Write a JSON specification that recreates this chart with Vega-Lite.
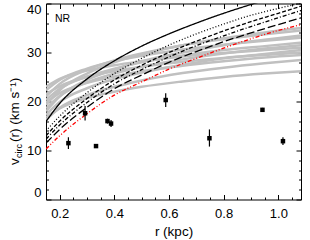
{
  "$schema": "https://vega.github.io/schema/vega-lite/v6.json",
  "autosize": "none",
  "width": 255,
  "height": 196,
  "padding": {"left": 46, "top": 3.5, "right": 9, "bottom": 40.5},
  "background": "white",
  "title": {"text": "NR", "anchor": "start", "frame": "group", "offset": -29, "dx": 9, "baseline": "alphabetic", "fontSize": 10.5, "font": "Liberation Sans", "fontWeight": "normal", "color": "black"},
  "config": {
    "view": {"stroke": null},
    "axis": {"grid": false, "domainColor": "black", "tickColor": "black", "labelColor": "black", "titleColor": "black", "labelFont": "Liberation Sans", "titleFont": "Liberation Sans", "labelFontSize": 13, "titleFontSize": 13.5, "titleFontWeight": "normal", "domainWidth": 1, "tickWidth": 1, "labelOverlap": false}
  },
  "datasets": {
    "gray": [
      {"curve": "g1", "r": 0.15, "v": 23.0}, {"curve": "g1", "r": 0.2, "v": 24.6}, {"curve": "g1", "r": 0.3, "v": 26.3}, {"curve": "g1", "r": 0.4, "v": 27.4}, {"curve": "g1", "r": 0.5, "v": 28.2}, {"curve": "g1", "r": 0.65, "v": 29.2}, {"curve": "g1", "r": 0.8, "v": 29.9}, {"curve": "g1", "r": 0.95, "v": 30.5}, {"curve": "g1", "r": 1.085, "v": 31.0},
      {"curve": "g2", "r": 0.15, "v": 22.3}, {"curve": "g2", "r": 0.2, "v": 24.4}, {"curve": "g2", "r": 0.3, "v": 26.7}, {"curve": "g2", "r": 0.4, "v": 28.2}, {"curve": "g2", "r": 0.5, "v": 29.3}, {"curve": "g2", "r": 0.65, "v": 30.6}, {"curve": "g2", "r": 0.8, "v": 31.6}, {"curve": "g2", "r": 0.95, "v": 32.4}, {"curve": "g2", "r": 1.085, "v": 33.0},
      {"curve": "g3", "r": 0.15, "v": 21.5}, {"curve": "g3", "r": 0.2, "v": 23.1}, {"curve": "g3", "r": 0.3, "v": 25.0}, {"curve": "g3", "r": 0.4, "v": 26.2}, {"curve": "g3", "r": 0.5, "v": 27.1}, {"curve": "g3", "r": 0.65, "v": 28.1}, {"curve": "g3", "r": 0.8, "v": 28.9}, {"curve": "g3", "r": 0.95, "v": 29.5}, {"curve": "g3", "r": 1.085, "v": 30.0},
      {"curve": "g4", "r": 0.15, "v": 21.0}, {"curve": "g4", "r": 0.2, "v": 23.6}, {"curve": "g4", "r": 0.3, "v": 26.5}, {"curve": "g4", "r": 0.4, "v": 28.4}, {"curve": "g4", "r": 0.5, "v": 29.8}, {"curve": "g4", "r": 0.65, "v": 31.5}, {"curve": "g4", "r": 0.8, "v": 32.7}, {"curve": "g4", "r": 0.95, "v": 33.7}, {"curve": "g4", "r": 1.085, "v": 34.5},
      {"curve": "g5", "r": 0.15, "v": 20.3}, {"curve": "g5", "r": 0.2, "v": 22.6}, {"curve": "g5", "r": 0.3, "v": 25.1}, {"curve": "g5", "r": 0.4, "v": 26.7}, {"curve": "g5", "r": 0.5, "v": 28.0}, {"curve": "g5", "r": 0.65, "v": 29.4}, {"curve": "g5", "r": 0.8, "v": 30.5}, {"curve": "g5", "r": 0.95, "v": 31.3}, {"curve": "g5", "r": 1.085, "v": 32.0},
      {"curve": "g6", "r": 0.15, "v": 19.8}, {"curve": "g6", "r": 0.2, "v": 21.7}, {"curve": "g6", "r": 0.3, "v": 23.8}, {"curve": "g6", "r": 0.4, "v": 25.1}, {"curve": "g6", "r": 0.5, "v": 26.2}, {"curve": "g6", "r": 0.65, "v": 27.3}, {"curve": "g6", "r": 0.8, "v": 28.2}, {"curve": "g6", "r": 0.95, "v": 29.0}, {"curve": "g6", "r": 1.085, "v": 29.5},
      {"curve": "g7", "r": 0.15, "v": 19.3}, {"curve": "g7", "r": 0.2, "v": 22.3}, {"curve": "g7", "r": 0.3, "v": 25.7}, {"curve": "g7", "r": 0.4, "v": 28.0}, {"curve": "g7", "r": 0.5, "v": 29.6}, {"curve": "g7", "r": 0.65, "v": 31.5}, {"curve": "g7", "r": 0.8, "v": 32.9}, {"curve": "g7", "r": 0.95, "v": 34.1}, {"curve": "g7", "r": 1.085, "v": 35.0},
      {"curve": "g8", "r": 0.15, "v": 18.6}, {"curve": "g8", "r": 0.2, "v": 21.1}, {"curve": "g8", "r": 0.3, "v": 23.9}, {"curve": "g8", "r": 0.4, "v": 25.7}, {"curve": "g8", "r": 0.5, "v": 27.1}, {"curve": "g8", "r": 0.65, "v": 28.6}, {"curve": "g8", "r": 0.8, "v": 29.8}, {"curve": "g8", "r": 0.95, "v": 30.8}, {"curve": "g8", "r": 1.085, "v": 31.5},
      {"curve": "g9", "r": 0.15, "v": 18.0}, {"curve": "g9", "r": 0.2, "v": 21.0}, {"curve": "g9", "r": 0.3, "v": 24.4}, {"curve": "g9", "r": 0.4, "v": 26.5}, {"curve": "g9", "r": 0.5, "v": 28.2}, {"curve": "g9", "r": 0.65, "v": 30.0}, {"curve": "g9", "r": 0.8, "v": 31.5}, {"curve": "g9", "r": 0.95, "v": 32.6}, {"curve": "g9", "r": 1.085, "v": 33.5},
      {"curve": "g10", "r": 0.15, "v": 17.3}, {"curve": "g10", "r": 0.2, "v": 19.9}, {"curve": "g10", "r": 0.3, "v": 22.7}, {"curve": "g10", "r": 0.4, "v": 24.6}, {"curve": "g10", "r": 0.5, "v": 25.9}, {"curve": "g10", "r": 0.65, "v": 27.5}, {"curve": "g10", "r": 0.8, "v": 28.8}, {"curve": "g10", "r": 0.95, "v": 29.7}, {"curve": "g10", "r": 1.085, "v": 30.5},
      {"curve": "g11", "r": 0.15, "v": 16.3}, {"curve": "g11", "r": 0.2, "v": 18.7}, {"curve": "g11", "r": 0.3, "v": 21.3}, {"curve": "g11", "r": 0.4, "v": 23.0}, {"curve": "g11", "r": 0.5, "v": 24.3}, {"curve": "g11", "r": 0.65, "v": 25.8}, {"curve": "g11", "r": 0.8, "v": 26.9}, {"curve": "g11", "r": 0.95, "v": 27.8}, {"curve": "g11", "r": 1.085, "v": 28.5},
      {"curve": "g12", "r": 0.15, "v": 16.8}, {"curve": "g12", "r": 0.2, "v": 18.6}, {"curve": "g12", "r": 0.3, "v": 20.7}, {"curve": "g12", "r": 0.4, "v": 22.0}, {"curve": "g12", "r": 0.5, "v": 23.0}, {"curve": "g12", "r": 0.65, "v": 24.1}, {"curve": "g12", "r": 0.8, "v": 25.0}, {"curve": "g12", "r": 0.95, "v": 25.7}, {"curve": "g12", "r": 1.085, "v": 26.2}
    ],
    "models": [
      {"model": "solid", "r": 0.15, "v": 15.9}, {"model": "solid", "r": 0.2, "v": 19.6}, {"model": "solid", "r": 0.3, "v": 24.6}, {"model": "solid", "r": 0.4, "v": 28.3}, {"model": "solid", "r": 0.5, "v": 31.3}, {"model": "solid", "r": 0.6, "v": 33.8}, {"model": "solid", "r": 0.7, "v": 36.0}, {"model": "solid", "r": 0.8, "v": 38.0}, {"model": "solid", "r": 0.9, "v": 39.8}, {"model": "solid", "r": 1.0, "v": 41.5},
      {"model": "dotted", "r": 0.15, "v": 14.0}, {"model": "dotted", "r": 0.2, "v": 17.0}, {"model": "dotted", "r": 0.3, "v": 21.8}, {"model": "dotted", "r": 0.4, "v": 25.7}, {"model": "dotted", "r": 0.5, "v": 28.8}, {"model": "dotted", "r": 0.6, "v": 31.5}, {"model": "dotted", "r": 0.7, "v": 33.8}, {"model": "dotted", "r": 0.8, "v": 35.8}, {"model": "dotted", "r": 0.9, "v": 37.6}, {"model": "dotted", "r": 1.0, "v": 39.0}, {"model": "dotted", "r": 1.085, "v": 40.1},
      {"model": "dashed", "r": 0.15, "v": 13.0}, {"model": "dashed", "r": 0.2, "v": 16.0}, {"model": "dashed", "r": 0.3, "v": 20.6}, {"model": "dashed", "r": 0.4, "v": 24.4}, {"model": "dashed", "r": 0.5, "v": 27.4}, {"model": "dashed", "r": 0.6, "v": 30.0}, {"model": "dashed", "r": 0.7, "v": 32.3}, {"model": "dashed", "r": 0.8, "v": 34.4}, {"model": "dashed", "r": 0.9, "v": 36.3}, {"model": "dashed", "r": 1.0, "v": 38.0}, {"model": "dashed", "r": 1.085, "v": 39.5},
      {"model": "dashdot", "r": 0.15, "v": 12.3}, {"model": "dashdot", "r": 0.2, "v": 15.2}, {"model": "dashdot", "r": 0.3, "v": 19.8}, {"model": "dashdot", "r": 0.4, "v": 23.6}, {"model": "dashdot", "r": 0.5, "v": 26.5}, {"model": "dashdot", "r": 0.6, "v": 29.1}, {"model": "dashdot", "r": 0.7, "v": 31.4}, {"model": "dashdot", "r": 0.8, "v": 33.4}, {"model": "dashdot", "r": 0.9, "v": 35.3}, {"model": "dashdot", "r": 1.0, "v": 37.1}, {"model": "dashdot", "r": 1.085, "v": 38.6},
      {"model": "longdash", "r": 0.15, "v": 11.5}, {"model": "longdash", "r": 0.2, "v": 14.3}, {"model": "longdash", "r": 0.3, "v": 18.8}, {"model": "longdash", "r": 0.4, "v": 22.6}, {"model": "longdash", "r": 0.5, "v": 25.4}, {"model": "longdash", "r": 0.6, "v": 28.0}, {"model": "longdash", "r": 0.7, "v": 30.2}, {"model": "longdash", "r": 0.8, "v": 32.2}, {"model": "longdash", "r": 0.9, "v": 34.0}, {"model": "longdash", "r": 1.0, "v": 35.7}, {"model": "longdash", "r": 1.085, "v": 37.1},
      {"model": "red", "r": 0.15, "v": 10.3}, {"model": "red", "r": 0.2, "v": 13.0}, {"model": "red", "r": 0.3, "v": 17.5}, {"model": "red", "r": 0.4, "v": 21.3}, {"model": "red", "r": 0.5, "v": 24.0}, {"model": "red", "r": 0.6, "v": 26.6}, {"model": "red", "r": 0.7, "v": 28.8}, {"model": "red", "r": 0.8, "v": 30.9}, {"model": "red", "r": 0.9, "v": 32.8}, {"model": "red", "r": 1.0, "v": 34.5}, {"model": "red", "r": 1.085, "v": 35.7}
    ],
    "obs": [
      {"r": 0.232, "v": 11.5, "lo": 10.3, "hi": 12.7},
      {"r": 0.293, "v": 17.6, "lo": 16.1, "hi": 19.1},
      {"r": 0.333, "v": 10.9, "lo": 10.5, "hi": 11.3},
      {"r": 0.375, "v": 16.0, "lo": 15.5, "hi": 16.5},
      {"r": 0.388, "v": 15.5, "lo": 14.8, "hi": 16.2},
      {"r": 0.588, "v": 20.3, "lo": 18.9, "hi": 21.7},
      {"r": 0.748, "v": 12.5, "lo": 10.8, "hi": 14.3},
      {"r": 0.942, "v": 18.3, "lo": 17.9, "hi": 18.7},
      {"r": 1.017, "v": 11.9, "lo": 11.1, "hi": 12.7}
    ]
  },
  "layer": [
    {
      "data": {"name": "gray"},
      "mark": {"type": "line", "color": "#c0c0c0", "strokeWidth": 2.5, "clip": true, "interpolate": "monotone"},
      "encoding": {
        "x": {"field": "r", "type": "quantitative", "scale": {"domain": [0.15, 1.083], "nice": false, "zero": false},
              "axis": {"orient": "bottom", "values": [0.2, 0.4, 0.6, 0.8, 1.0], "format": ".1f", "tickSize": -5, "labelPadding": 13, "labelFlush": false, "title": "r (kpc)", "titleX": 127.5, "titleY": 36, "titleBaseline": "alphabetic"}},
        "y": {"field": "v", "type": "quantitative", "scale": {"domain": [0, 40], "nice": false, "zero": false},
              "axis": {"orient": "left", "values": [0, 10, 20, 30, 40], "tickSize": -5, "labelPadding": 10, "labelFlush": true, "title": "v", "titleAngle": 270, "titleAlign": "left", "titleBaseline": "alphabetic", "titleX": -28, "titleY": 161}},
        "detail": {"field": "curve", "type": "nominal"}
      }
    },
    {
      "data": {"name": "models"},
      "mark": {"type": "line", "strokeWidth": 1.3, "clip": true, "interpolate": "monotone"},
      "encoding": {
        "x": {"field": "r", "type": "quantitative", "scale": {"domain": [0.15, 1.083], "nice": false, "zero": false},
              "axis": {"orient": "bottom", "values": [0.25, 0.3, 0.35, 0.45, 0.5, 0.55, 0.65, 0.7, 0.75, 0.85, 0.9, 0.95, 1.05], "tickSize": -2.5, "labels": false, "domain": false, "title": null}},
        "y": {"field": "v", "type": "quantitative", "scale": {"domain": [0, 40], "nice": false, "zero": false},
              "axis": {"orient": "left", "values": [2, 4, 6, 8, 12, 14, 16, 18, 22, 24, 26, 28, 32, 34, 36, 38], "tickSize": -2.5, "labels": false, "domain": false, "title": "circ", "titleFontSize": 9, "titleAngle": 270, "titleAlign": "left", "titleBaseline": "alphabetic", "titleX": -25, "titleY": 154}},
        "color": {"field": "model", "type": "nominal", "scale": {"domain": ["solid", "dotted", "dashed", "dashdot", "longdash", "red"], "range": ["black", "black", "black", "black", "black", "red"]}, "legend": null},
        "strokeDash": {"field": "model", "type": "nominal", "scale": {"domain": ["solid", "dotted", "dashed", "dashdot", "longdash", "red"], "range": [[1, 0], [1, 2], [4, 2], [4, 2, 1, 2], [8, 3], [4, 2, 1, 2, 1, 2]]}, "legend": null}
      }
    },
    {
      "data": {"name": "obs"},
      "mark": {"type": "rule", "color": "black", "strokeWidth": 1.2},
      "encoding": {
        "x": {"field": "r", "type": "quantitative", "scale": {"domain": [0.15, 1.083], "nice": false, "zero": false},
              "axis": {"orient": "top", "values": [0.2, 0.4, 0.6, 0.8, 1.0], "tickSize": -5, "labels": false, "title": null}},
        "y": {"field": "lo", "type": "quantitative", "scale": {"domain": [0, 40], "nice": false, "zero": false},
              "axis": {"orient": "right", "values": [0, 10, 20, 30, 40], "tickSize": -5, "labels": false, "title": "(r)  (km s\u207b\u00b9)", "titleAngle": 270, "titleAlign": "left", "titleBaseline": "alphabetic", "titleX": -283, "titleY": 138}},
        "y2": {"field": "hi"}
      }
    },
    {
      "data": {"name": "obs"},
      "mark": {"type": "square", "color": "black", "filled": true, "size": 20, "opacity": 1},
      "encoding": {
        "x": {"field": "r", "type": "quantitative", "scale": {"domain": [0.15, 1.083], "nice": false, "zero": false},
              "axis": {"orient": "top", "values": [0.25, 0.3, 0.35, 0.45, 0.5, 0.55, 0.65, 0.7, 0.75, 0.85, 0.9, 0.95, 1.05], "tickSize": -2.5, "labels": false, "domain": false, "title": null}},
        "y": {"field": "v", "type": "quantitative", "scale": {"domain": [0, 40], "nice": false, "zero": false},
              "axis": {"orient": "right", "values": [2, 4, 6, 8, 12, 14, 16, 18, 22, 24, 26, 28, 32, 34, 36, 38], "tickSize": -2.5, "labels": false, "domain": false, "title": null}}
      }
    }
  ],
  "resolve": {"axis": {"x": "independent", "y": "independent"}}
}
